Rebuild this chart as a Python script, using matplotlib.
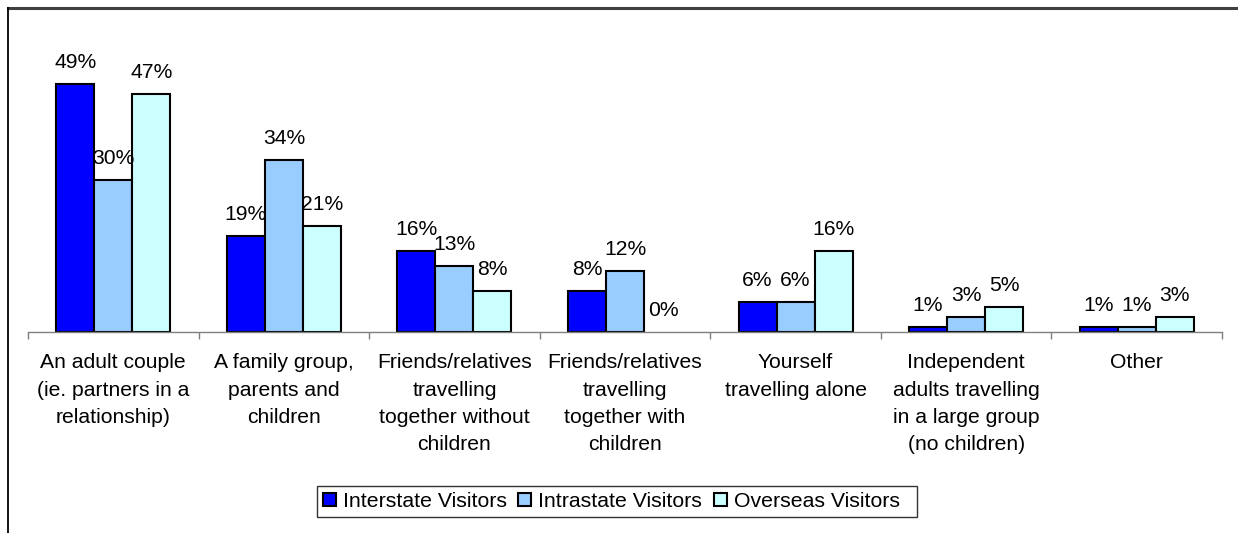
import matplotlib
matplotlib.use("Agg")
import matplotlib.pyplot as plt
from matplotlib.lines import Line2D
import numpy as np

plt.rcParams['font.family'] = ['Liberation Sans', 'DejaVu Sans']

categories = [
    "An adult couple\n(ie. partners in a\nrelationship)",
    "A family group,\nparents and\nchildren",
    "Friends/relatives\ntravelling\ntogether without\nchildren",
    "Friends/relatives\ntravelling\ntogether with\nchildren",
    "Yourself\ntravelling alone",
    "Independent\nadults travelling\nin a large group\n(no children)",
    "Other",
]
series_names = ["Interstate Visitors", "Intrastate Visitors", "Overseas Visitors"]
interstate = [49, 19, 16, 8, 6, 1, 1]
intrastate = [30, 34, 13, 12, 6, 3, 1]
overseas = [47, 21, 8, 0, 16, 5, 3]
colors = ["#0000FF", "#99CCFF", "#CCFFFF"]

W, H = 1238, 533
fs = 15.2
fig = plt.figure(figsize=(W / 100, H / 100), dpi=100)

ax_left, ax_right = 28, 1222
ax_base, ax_top = 332, 28
ax = fig.add_axes([ax_left / W, (H - ax_base) / H,
                   (ax_right - ax_left) / W, (ax_base - ax_top) / H])

x = np.arange(len(categories))
bw = 0.223
handles = []
for i, (vals, col, name) in enumerate(zip([interstate, intrastate, overseas], colors, series_names)):
    pos = x + (i - 1) * bw
    bars = ax.bar(pos, vals, width=bw, color=col, edgecolor="black", linewidth=1.5, label=name)
    handles.append(bars)
    for b, v in zip(bars, vals):
        if v == 0:
            b.set_linewidth(0)
    for p, v in zip(pos, vals):
        ax.annotate(f"{v}%", (p, v), xytext=(0, 11.5), textcoords="offset points",
                    ha="center", va="baseline", fontsize=fs)

ax.set_xlim(-0.5, len(categories) - 0.5)
ax.set_ylim(0, 60)
for s in ["top", "right", "left"]:
    ax.spines[s].set_visible(False)
ax.spines["bottom"].set_color("#808080")
ax.spines["bottom"].set_linewidth(1.0)
ax.set_yticks([])
ax.set_xticks(np.arange(len(categories) + 1) - 0.5)
ax.set_xticklabels([])
ax.tick_params(axis="x", direction="out", length=5, color="#808080", width=1)
for xi, lab in zip(x, categories):
    ax.text(xi, -4.2, lab, ha="center", va="top", fontsize=fs, linespacing=1.55)

# a little extra room after the last legend entry
leg_labels = series_names[:-1] + [series_names[-1] + "  "]
leg = fig.legend(handles=handles, labels=leg_labels, loc="center left",
                 bbox_to_anchor=(317 / W, (H - 501.5) / H), ncol=3, fontsize=15.3,
                 frameon=True, fancybox=False, shadow=False, handlelength=0.61,
                 handleheight=0.61, handletextpad=0.33, columnspacing=0.55,
                 borderpad=0.27, borderaxespad=0)
leg.get_frame().set_edgecolor("black")
leg.get_frame().set_linewidth(1.0)

# outer frame lines
fig.add_artist(Line2D([8 / W, 1.0], [(H - 8) / H, (H - 8) / H], color="#404040", linewidth=2.2))
fig.add_artist(Line2D([8 / W, 8 / W], [(H - 8) / H, 0], color="black", linewidth=1.3))

fig.savefig("out.png", dpi=100)
